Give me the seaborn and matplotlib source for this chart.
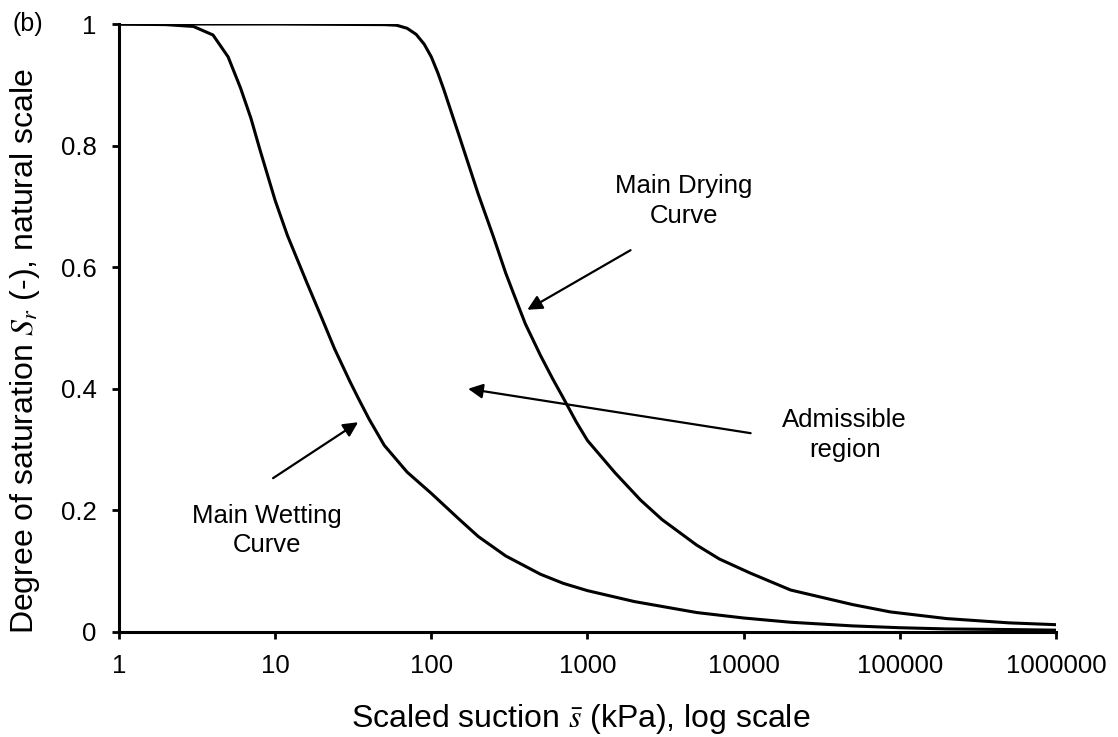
import numpy as np
import pandas as pd
import matplotlib
matplotlib.use("Agg")
import matplotlib.pyplot as plt
import matplotlib.ticker as mticker
import seaborn as sns

# Main wetting curve (scaled suction in kPa, degree of saturation)
wet_suction = [1, 2, 3, 4, 5, 6, 7, 8, 10, 12, 16, 20, 24, 30, 34, 40, 50, 70,
               100, 150, 200, 300, 500, 700, 1000, 2000, 5000, 10000, 20000,
               50000, 100000, 200000, 500000, 1000000]
wet_sr = [1.0, 0.999, 0.996, 0.982, 0.946, 0.895, 0.845, 0.793, 0.71, 0.652,
          0.574, 0.515, 0.466, 0.413, 0.385, 0.35, 0.307, 0.263, 0.228, 0.186,
          0.157, 0.125, 0.095, 0.08, 0.068, 0.05, 0.032, 0.023, 0.016, 0.01,
          0.007, 0.005, 0.004, 0.003]

# Main drying curve
dry_suction = [1, 10, 50, 60, 70, 80, 90, 100, 110, 120, 150, 200, 250, 300,
               336, 400, 500, 600, 700, 850, 1000, 1500, 2187, 3000, 5000,
               7000, 11000, 20000, 50000, 87000, 200000, 500000, 1000000]
dry_sr = [1.0, 1.0, 0.999, 0.998, 0.993, 0.983, 0.967, 0.946, 0.92, 0.893,
          0.818, 0.72, 0.65, 0.59, 0.557, 0.507, 0.455, 0.416, 0.385, 0.345,
          0.315, 0.262, 0.217, 0.185, 0.143, 0.12, 0.097, 0.069, 0.045, 0.033,
          0.022, 0.015, 0.012]

x_ticks = [1, 10, 100, 1000, 10000, 100000, 1000000]
y_ticks = [0, 0.2, 0.4, 0.6, 0.8, 1]

sns.set_theme(style="ticks")
plt.rcParams['font.family'] = ['Liberation Sans', 'DejaVu Sans']
plt.rcParams['mathtext.fontset'] = 'stix'
plt.rcParams['text.color'] = 'black'
plt.rcParams['axes.labelcolor'] = 'black'

fig = plt.figure(figsize=(11.18, 7.37), dpi=100)
ax = fig.add_axes([0.1064, 0.1425, 0.8381, 0.8249])

wet = pd.DataFrame({"s": wet_suction, "Sr": wet_sr})
dry = pd.DataFrame({"s": dry_suction, "Sr": dry_sr})
sns.lineplot(data=dry, x="s", y="Sr", ax=ax, color="black", lw=2.2)
sns.lineplot(data=wet, x="s", y="Sr", ax=ax, color="black", lw=2.2)

ax.set_xscale("log")
ax.set_xlim(1, 1e6)
ax.set_ylim(0, 1)
ax.xaxis.set_major_locator(mticker.FixedLocator(x_ticks))
ax.xaxis.set_minor_locator(mticker.NullLocator())
ax.set_xticklabels([str(v) for v in x_ticks])
ax.set_yticks(y_ticks)
ax.set_yticklabels([f"{v:g}" for v in y_ticks])

for side in ["top", "right"]:
    ax.spines[side].set_visible(False)
for side in ["left", "bottom"]:
    ax.spines[side].set_linewidth(2.2)
    ax.spines[side].set_color("black")
ax.tick_params(axis="both", direction="out", length=5, width=2.0,
               labelsize=18.5, colors="black", pad=11)

ax.set_xlabel(r"Scaled suction $\bar{s}$ (kPa), log scale", fontsize=23)
ax.set_ylabel(r"Degree of saturation $S_r$ (-), natural scale", fontsize=23)
ax.xaxis.label.set_verticalalignment("baseline")
ax.yaxis.label.set_verticalalignment("baseline")
ax.xaxis.set_label_coords(0.493, -0.156)
ax.yaxis.set_label_coords(-0.0919, 0.462)

fig.text(13 / 1118, 1 - 31 / 737, "(b)", fontsize=18, ha="left",
         va="baseline")

arrow = dict(arrowstyle="-|>", color="black", lw=1.6, mutation_scale=22,
             shrinkA=0, shrinkB=0)
ax.annotate("", xy=(412, 0.530), xytext=(1888, 0.628), arrowprops=arrow)
ax.annotate("", xy=(172, 0.400), xytext=(11090, 0.327), arrowprops=arrow)
ax.annotate("", xy=(34, 0.345), xytext=(9.7, 0.253), arrowprops=arrow)

labels = [
    ("Main Drying", 4125, 0.722), ("Curve", 4125, 0.673),
    ("Admissible", 44400, 0.337), ("region", 44400, 0.288),
    ("Main Wetting", 8.89, 0.179), ("Curve", 8.89, 0.132),
]
for txt, lx, ly in labels:
    ax.text(lx, ly, txt, fontsize=18.5, ha="center", va="baseline",
            color="black")

fig.savefig("out.png", dpi=100)
